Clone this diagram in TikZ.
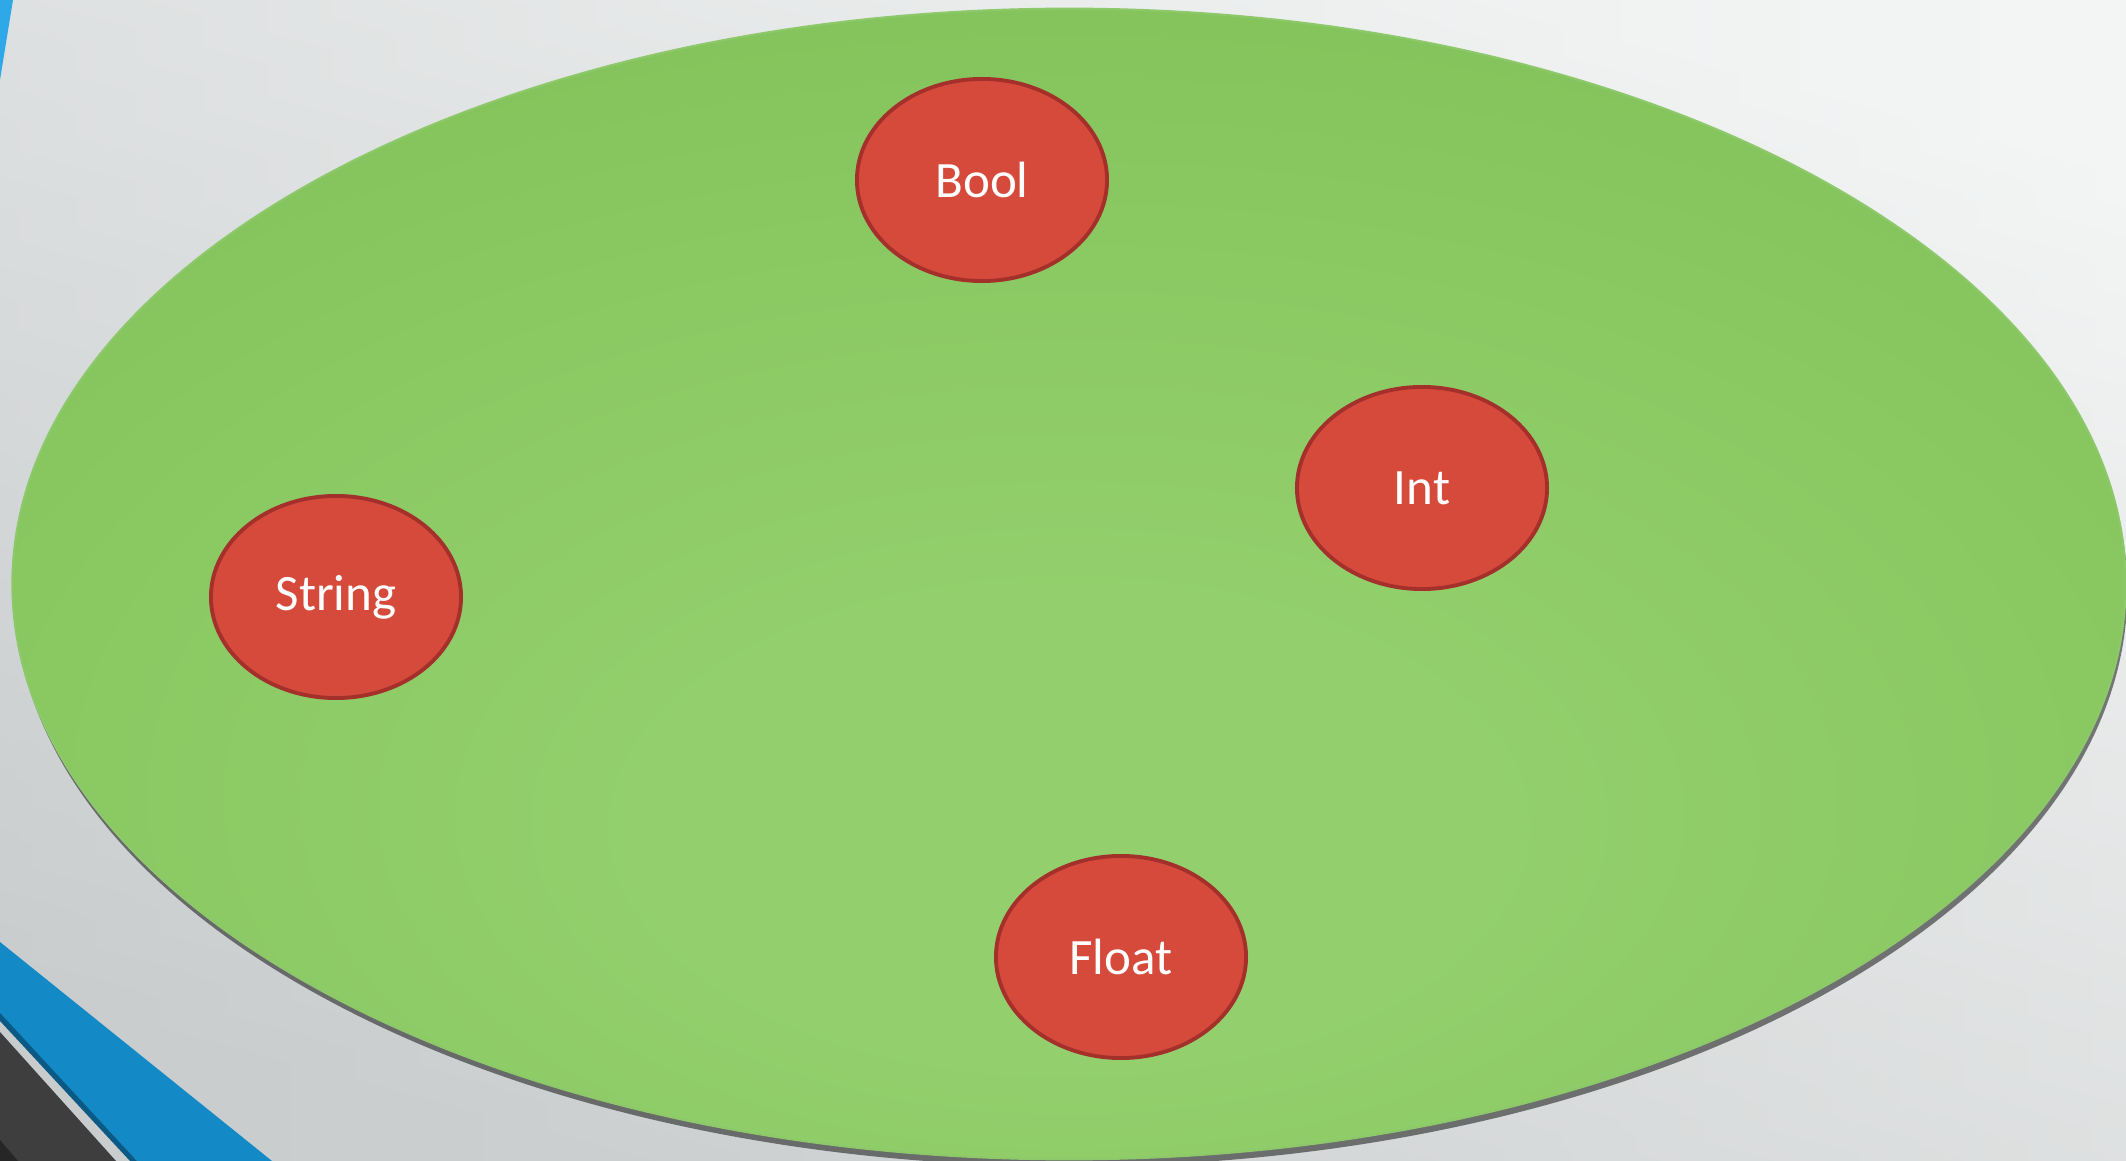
\documentclass[tikz,border=0pt]{standalone}
\usepackage{fontspec}
\setmainfont{Carlito}
\usetikzlibrary{shapes.geometric,shadows}
\definecolor{bgtop}{HTML}{EEF0F0}
\definecolor{bgbot}{HTML}{BFC3C4}
\definecolor{blueA}{HTML}{1389C6}
\definecolor{blueB}{HTML}{2FA8E8}
\definecolor{blueDark}{HTML}{0B5A85}
\definecolor{darkGray}{HTML}{3E3E3E}
\definecolor{gLight}{HTML}{93D06D}
\definecolor{gDark}{HTML}{7ABA4E}
\definecolor{gRim}{HTML}{8DC86A}
\definecolor{redFill}{HTML}{D64A3B}
\definecolor{redRim}{HTML}{A3302A}
\pgfdeclareradialshading{greenrad}{\pgfpoint{0bp}{-12bp}}{color(0bp)=(gLight); color(10bp)=(gLight); color(50bp)=(gDark); color(90bp)=(gDark)}
\tikzset{
  typebox/.style={ellipse, fill=redFill, draw=redRim, line width=1.1pt,
    minimum width=2.5cm, minimum height=2.02cm, inner sep=0pt,
    text=white, font=\fontsize{14.5pt}{16pt}\selectfont},
  setbox/.style={ellipse, shading=greenrad, draw=gRim, line width=0.6pt,
    minimum width=21.12cm, minimum height=11.5cm, inner sep=0pt,
    drop shadow={shadow xshift=0.5pt, shadow yshift=-2pt, opacity=0.6, fill=black!85}}
}
\begin{document}
\begin{tikzpicture}[x=0.01cm, y=-0.01cm]
\useasboundingbox (0,0) rectangle (2126,1161);
% background
\shade[top color=bgtop, bottom color=bgbot, shading angle=-15] (0,0) rectangle (2126,1161);
\shade[left color=bgtop!60!bgbot, right color=white, opacity=0.35] (0,0) rectangle (2126,1161);
% top-left blue sliver
\fill[blueB] (0,0) -- (13,0) -- (0,80) -- cycle;
% bottom-left bands
\fill[blueA] (0,942) -- (272,1161) -- (137,1161) -- (0,1015) -- cycle;
\fill[blueDark] (0,1013) -- (137,1161) -- (130,1161) -- (0,1021) -- cycle;
\fill[darkGray] (0,1032) -- (116,1161) -- (0,1161) -- cycle;
\fill[black!85] (0,1140) -- (18,1161) -- (0,1161) -- cycle;
% main set
\node[setbox] (set) at (1069,584) {};
% members
\node[typebox] (bool) at (982,180) {Bool};
\node[typebox] (int) at (1422,488) {Int};
\node[typebox] (string) at (336,597) {String};
\node[typebox] (float) at (1121,957) {Float};
\end{tikzpicture}
\end{document}
